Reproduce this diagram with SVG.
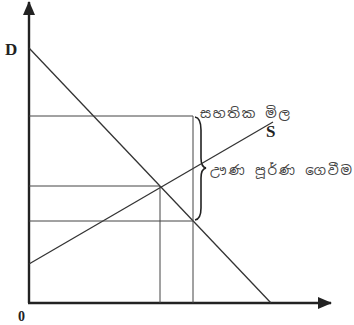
<svg xmlns="http://www.w3.org/2000/svg" width="354" height="325" viewBox="0 0 354 325">
<style>
.ax{stroke:#222;stroke-width:2.4;fill:none}
.ln{stroke:#333;stroke-width:1.3;fill:none}
.th{stroke:#444;stroke-width:1;fill:none}
.lb{font-family:"Liberation Serif",serif;font-weight:bold;fill:#222}
.si{font-family:"Noto Sans Sinhala","Noto Serif Sinhala","Noto Sans",sans-serif;font-size:13.5px;fill:#444}
</style>
<defs>
<marker id="ah" markerWidth="14" markerHeight="12" refX="13" refY="6" orient="auto" markerUnits="userSpaceOnUse">
<path d="M0,0 L14,6 L0,12 Z" fill="#222"/>
</marker>
</defs>
<rect width="354" height="325" fill="#fff"/>
<g id="axes">
<line class="ax" x1="29" y1="303" x2="29" y2="2" marker-end="url(#ah)"/>
<line class="ax" x1="28" y1="303" x2="331" y2="303" marker-end="url(#ah)"/>
</g>
<g id="connectors">
<line class="ln" x1="29" y1="48" x2="271" y2="303"/>
<line class="ln" x1="29" y1="264" x2="273" y2="122"/>
<polyline class="th" points="29,116 193,116 193,303"/>
<polyline class="th" points="29,186 160,186 160,303"/>
<line class="th" x1="29" y1="221" x2="193" y2="221"/>
<path d="M195,117 Q201,118 201,130 L201,158 Q201,167 206,168 Q201,169 201,178 L201,208 Q201,219 195,220" stroke="#222" stroke-width="1.6" fill="none"/>
</g>
<g id="labels">
<text class="lb" x="5" y="55" font-size="17">D</text>
<text class="lb" x="266" y="137" font-size="17">S</text>
<text class="lb" x="18" y="321" font-size="14">0</text>
<text class="si" x="200" y="118" textLength="90" lengthAdjust="spacing">සහතික මිල</text>
<text class="si" x="210" y="175" textLength="142" lengthAdjust="spacing">ඌණ පූර්ණ ගෙවීම</text>
</g>
</svg>
